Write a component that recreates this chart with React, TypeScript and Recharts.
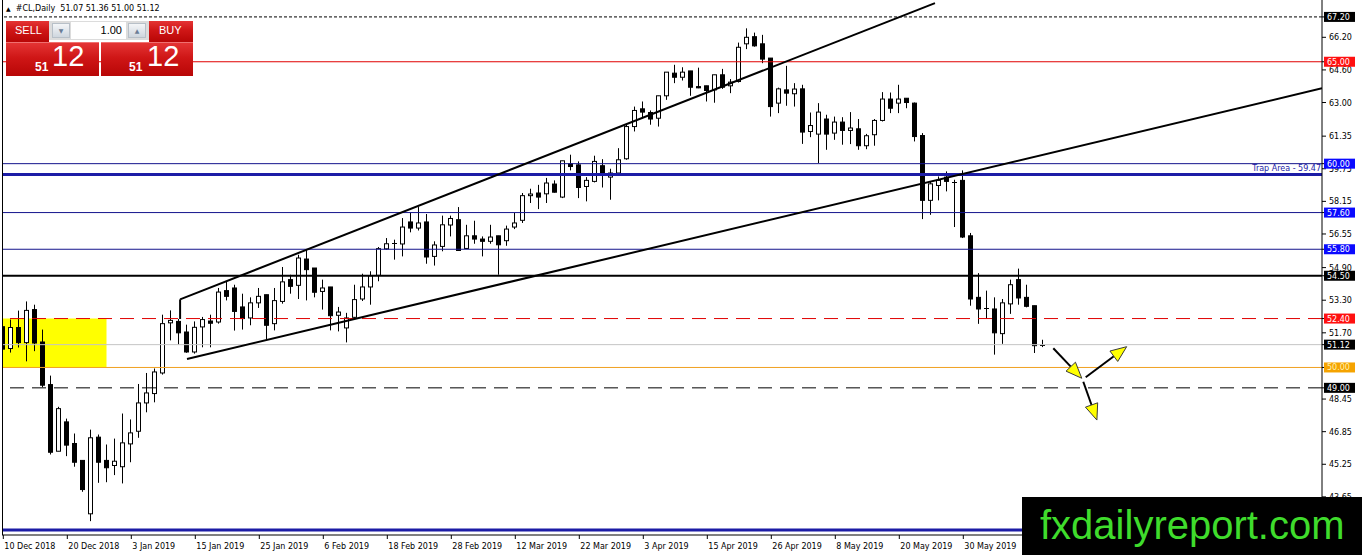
import React from "react";
import { ComposedChart, Bar, XAxis, YAxis, ReferenceLine, ReferenceArea } from "recharts";

// ---- daily OHLC of #CL, bar 0 = 10 Dec 2018 ----
const opens = [
  52.0, 50.93, 51.96, 51.22, 52.84, 51.25, 49.16, 45.89, 47.33, 46.27,
  45.44, 42.82, 46.58, 45.44, 45.19, 45.13, 46.25, 46.87, 48.26, 48.72,
  49.73, 52.19, 52.26, 51.74, 50.76, 51.99, 52.28, 52.23, 53.77, 53.9,
  52.97, 52.43, 53.17, 53.57, 52.15, 53.24, 54.31, 54.03, 55.32, 54.88,
  53.73, 53.95, 52.56, 51.94, 52.46, 53.36, 53.95, 54.52, 55.82, 56.1,
  56.06, 57.14, 56.84, 57.14, 55.45, 55.94, 56.99, 57.25, 55.84, 56.46,
  56.3, 56.19, 56.46, 56.22, 56.89, 57.22, 58.43, 58.56, 58.52, 59.0,
  58.36, 59.99, 59.94, 58.88, 59.13, 59.9, 59.34, 59.54, 60.24, 61.82,
  62.69, 62.51, 62.23, 63.33, 64.44, 64.24, 64.55, 63.78, 63.82, 63.62,
  64.36, 63.82, 64.03, 65.88, 66.23, 65.88, 65.18, 62.97, 63.62, 63.43,
  63.67, 61.58, 61.45, 62.19, 61.5, 62.04, 61.63, 61.71, 60.88, 61.42,
  62.12, 63.17, 62.97, 63.21, 62.97, 61.38, 58.2, 58.93, 59.34, 59.08,
  59.18, 56.46, 53.44, 52.92, 52.87, 51.66, 53.12, 54.31, 53.44, 53.03,
  51.07,
];
const highs = [
  52.7, 52.35, 52.79, 53.24, 53.08, 51.86, 49.6, 48.07, 47.49, 46.76,
  45.44, 46.95, 46.71, 46.22, 46.51, 47.74, 47.45, 49.19, 49.73, 49.95,
  52.59, 52.8, 52.38, 52.1, 52.26, 52.48, 52.59, 53.9, 54.22, 54.06,
  53.62, 53.44, 53.9, 53.57, 53.9, 54.93, 54.55, 55.53, 55.78, 54.88,
  54.31, 53.95, 52.97, 52.68, 54.06, 54.6, 54.72, 55.91, 56.35, 56.27,
  57.33, 57.58, 57.87, 57.53, 56.19, 57.45, 57.45, 57.87, 57.0, 57.2,
  56.43, 57.0, 56.46, 56.96, 57.58, 58.56, 58.77, 58.96, 59.3, 59.18,
  60.14, 60.44, 60.11, 59.34, 60.39, 60.22, 59.75, 60.76, 61.91, 62.8,
  63.05, 62.61, 63.33, 64.49, 64.85, 64.73, 64.55, 64.71, 63.82, 64.36,
  64.65, 64.15, 65.94, 66.64, 66.43, 66.32, 65.18, 63.73, 64.8, 63.95,
  63.87, 62.51, 62.97, 62.4, 62.31, 62.28, 62.53, 62.19, 61.46, 62.19,
  63.51, 63.49, 63.87, 63.21, 63.0, 61.5, 59.13, 59.37, 59.62, 59.21,
  59.67, 56.6, 54.63, 53.77, 53.44, 53.36, 54.31, 54.85, 54.06, 53.03,
  51.36,
];
const lows = [
  50.6, 50.73, 50.98, 50.3, 50.8, 49.03, 45.73, 45.89, 45.65, 45.13,
  43.9, 42.46, 44.34, 44.37, 44.72, 44.31, 45.35, 46.55, 47.8, 48.29,
  49.65, 51.33, 51.12, 50.72, 50.68, 50.99, 50.99, 52.15, 53.29, 51.81,
  51.86, 52.07, 52.92, 51.37, 51.82, 53.13, 53.62, 53.36, 53.29, 53.44,
  52.84, 51.82, 51.77, 51.23, 52.4, 53.26, 53.08, 54.23, 55.78, 55.29,
  55.45, 56.63, 56.72, 55.09, 55.0, 55.7, 56.43, 55.74, 55.81, 56.07,
  55.45, 56.07, 54.55, 55.97, 56.79, 57.09, 58.07, 57.77, 58.07, 58.58,
  58.31, 59.67, 58.31, 58.15, 59.08, 58.83, 58.23, 59.41, 60.19, 61.58,
  62.23, 61.91, 61.82, 63.13, 63.95, 64.08, 63.33, 63.7, 63.05, 62.99,
  63.67, 63.46, 63.98, 65.62, 65.74, 64.93, 62.31, 62.48, 62.84, 62.8,
  60.97, 61.3, 60.03, 60.68, 61.17, 60.93, 60.96, 60.68, 60.71, 60.88,
  62.07, 62.48, 62.48, 62.72, 61.09, 57.28, 57.49, 58.2, 58.64, 56.89,
  56.35, 53.03, 52.14, 52.38, 50.63, 51.16, 52.63, 53.08, 52.95, 50.71,
  51.0,
];
const closes = [
  50.9, 51.96, 51.22, 52.8, 51.2, 49.13, 45.84, 47.98, 46.19, 45.35,
  44.01, 46.55, 45.35, 45.08, 45.4, 46.3, 46.79, 48.26, 48.75, 49.78,
  52.15, 52.31, 51.7, 50.76, 51.97, 52.35, 52.17, 53.7, 53.49, 52.75,
  52.4, 53.17, 53.49, 52.07, 53.28, 54.2, 53.98, 55.37, 54.8, 53.69,
  53.9, 52.54, 52.72, 52.43, 53.33, 53.95, 54.5, 55.83, 56.07, 56.07,
  56.89, 56.84, 57.09, 55.42, 56.01, 57.0, 57.31, 55.74, 56.46, 56.3,
  56.19, 56.4, 56.02, 56.79, 57.09, 58.43, 58.51, 58.36, 59.05, 58.6,
  60.14, 59.86, 58.83, 59.18, 60.11, 59.42, 59.54, 60.19, 61.82, 62.61,
  62.53, 62.19, 63.33, 64.49, 64.24, 64.49, 63.75, 63.72, 63.59, 64.36,
  63.75, 64.0, 65.71, 66.2, 65.78, 65.13, 62.8, 63.67, 63.46, 63.66,
  61.55, 61.87, 62.53, 61.45, 62.04, 61.63, 61.75, 60.88, 61.37, 62.12,
  63.17, 62.72, 63.17, 63.0, 61.33, 58.2, 59.01, 59.18, 59.13, 59.05,
  56.4, 53.36, 52.87, 52.87, 51.7, 53.17, 54.06, 53.41, 53.0, 51.07,
  51.12,
];

const dateTickLabels = [
  "10 Dec 2018", "20 Dec 2018", "3 Jan 2019", "15 Jan 2019", "25 Jan 2019", "6 Feb 2019",
  "18 Feb 2019", "28 Feb 2019", "12 Mar 2019", "22 Mar 2019", "3 Apr 2019", "15 Apr 2019",
  "26 Apr 2019", "8 May 2019", "20 May 2019", "30 May 2019",
];
const barsPerLabel = 8;
const priceTicks = [66.2, 64.6, 63.0, 61.35, 59.75, 58.15, 56.55, 54.9, 53.3, 51.7, 48.45, 46.85, 45.25, 43.65];

// horizontal levels
const levelPrices = [67.2, 65.0, 60.0, 59.47, 57.6, 55.8, 54.5, 52.4, 51.12, 50.0, 49.0, 42.03];
const levelLineColors = ["#000000", "#e00000", "#14148c", "#1c1ca6", "#14148c", "#14148c", "#000000", "#e00000", "#c4c4c4", "#f0a020", "#000000", "#1c1ca6"];
const levelWidths = [1, 1, 1, 3, 1, 1, 2, 1, 1, 1, 1, 3];
const levelDashes = ["3 2", "", "", "", "", "", "", "14 8", "", "", "14 8", ""];
const levelBoxColors = ["#000000", "#ff1010", "#0a0aff", "", "#0a0aff", "#0a0aff", "#000000", "#ff1010", "#000000", "#f5a300", "#000000", ""];
const levelBoxText = ["#ffffff", "#ffffff", "#ffffff", "", "#ffffff", "#ffffff", "#ffffff", "#ffffff", "#ffffff", "#fff2b0", "#ffffff", ""];
const trapLabel = "Trap Area - 59.47";

// zone (bar index range, price range)
const zoneBars = [-0.16, 12.9];
const zonePrices = [50.0, 52.4];

// trend lines [x1, y1, x2, y2] in (bar index, price)
const trendLines = [
  [22.1, 53.34, 116.46, 67.88],
  [22.1, 53.34, 22.1, 52.38],
  [22.96, 50.42, 164.84, 63.7],
];
// arrows [x1, y1, x2(tip), y2(tip)]
const arrows = [
  [131.25, 50.94, 134.81, 49.47],
  [135.3, 49.52, 140.42, 51.02],
  [135.0, 49.3, 136.7, 47.42],
];

const xDomain = [-0.1625, 164.8375];
const yDomain = [41.78, 68.03];
const FONT = "DejaVu Sans";

const Candle = (props: any) => {
  const { x, y, width, height, payload } = props;
  if (!payload) return null;
  const { o, h, l, c } = payload;
  const top = Math.min(y, y + height);
  const bot = Math.max(y, y + height);
  const span = h - l;
  const yOf = (v: number) => (span > 0 ? top + ((h - v) / span) * (bot - top) : top);
  const cx = Math.floor(x + width / 2) + 0.5;
  const yo = yOf(o);
  const yc = yOf(c);
  const bTop = Math.min(yo, yc);
  const bBot = Math.max(yo, yc);
  const bull = c >= o;
  return (
    <g>
      <line x1={cx} x2={cx} y1={top} y2={bot} stroke="#000" strokeWidth={1} />
      {bBot - bTop < 1.2 ? (
        <line x1={cx - 2.5} x2={cx + 2.5} y1={Math.round(bTop) + 0.5} y2={Math.round(bTop) + 0.5} stroke="#000" strokeWidth={1} />
      ) : (
        <rect x={cx - 2} y={bTop} width={4} height={bBot - bTop} fill={bull ? "#ffffff" : "#000000"} stroke="#000" strokeWidth={1} />
      )}
    </g>
  );
};

const XTick = (props: any) => {
  const { x, y, payload } = props;
  const label = dateTickLabels[Math.round(payload.value / barsPerLabel)];
  return (
    <text x={x + 1} y={y} dy={8} textAnchor="start" fontSize={8} fontFamily={FONT} fill="#000">
      {label}
    </text>
  );
};

const YTick = (props: any) => {
  const { x, y, payload } = props;
  const v = payload.value;
  const k = levelPrices.findIndex((p, i) => Math.abs(p - v) < 1e-6 && levelBoxColors[i] !== "");
  if (k >= 0) {
    return (
      <g>
        <rect x={x - 5} y={y - 5} width={31} height={10} fill={levelBoxColors[k]} />
        <text x={x - 2} y={y + 3} fontSize={8} fontFamily={FONT} fill={levelBoxText[k]}>
          {v.toFixed(2)}
        </text>
      </g>
    );
  }
  return (
    <text x={x} y={y + 3} fontSize={8} fontFamily={FONT} fill="#000">
      {v.toFixed(2)}
    </text>
  );
};

const ArrowShape = (props: any) => {
  const { x1, y1, x2, y2 } = props;
  const ang = Math.atan2(y2 - y1, x2 - x1);
  const L = 16;
  const W = 6.5;
  const bx = x2 - L * Math.cos(ang);
  const by = y2 - L * Math.sin(ang);
  const px = -Math.sin(ang) * W;
  const py = Math.cos(ang) * W;
  return (
    <g>
      <line x1={x1} y1={y1} x2={bx} y2={by} stroke="#000" strokeWidth={2} />
      <polygon points={`${x2},${y2} ${bx + px},${by + py} ${bx - px},${by - py}`} fill="#ffff00" stroke="#3a3a3a" strokeWidth={1} />
    </g>
  );
};

const TrapLabel = (props: any) => {
  const vb = props.viewBox || {};
  return (
    <text x={vb.x + vb.width - 1} y={vb.y - 3.5} textAnchor="end" fontSize={8} fontFamily={FONT} fill="#1c1ca6">
      {trapLabel}
    </text>
  );
};

const redGrad = "linear-gradient(to bottom, #e43434 0%, #cf1616 45%, #b80606 100%)";

export default function App() {
  const data = opens.map((o, i) => ({ i, o, h: highs[i], l: lows[i], c: closes[i], range: [lows[i], highs[i]] }));
  const xTicks = dateTickLabels.map((_, k) => k * barsPerLabel);
  const yTicks = [...priceTicks, ...levelPrices.filter((_, i) => levelBoxColors[i] !== "")];

  return (
    <div style={{ position: "relative", width: 1362, height: 555, background: "#fff", overflow: "hidden", fontFamily: FONT }}>
      <style>{"body{margin:0}"}</style>
      <ComposedChart width={1362} height={555} data={data} margin={{ top: 0, right: 0, bottom: 0, left: 2 }}>
        <XAxis
          dataKey="i"
          type="number"
          domain={xDomain}
          allowDataOverflow
          ticks={xTicks}
          interval={0}
          tick={(p: any) => <XTick {...p} />}
          tickSize={4}
          tickMargin={2}
          height={20}
          axisLine={{ stroke: "#000" }}
          tickLine={{ stroke: "#000" }}
        />
        <YAxis
          orientation="right"
          type="number"
          domain={yDomain}
          allowDataOverflow
          ticks={yTicks}
          interval={0}
          tick={(p: any) => <YTick {...p} />}
          tickSize={4}
          tickMargin={3}
          width={40}
          axisLine={{ stroke: "#000" }}
          tickLine={{ stroke: "#000" }}
        />
        <ReferenceArea
          x1={zoneBars[0]}
          x2={zoneBars[1]}
          y1={zonePrices[0]}
          y2={zonePrices[1]}
          fill="#ffff00"
          fillOpacity={1}
          stroke="none"
          ifOverflow="hidden"
        />
        {levelPrices.map((p, i) => (
          <ReferenceLine
            key={"lv" + i}
            y={p}
            stroke={levelLineColors[i]}
            strokeWidth={levelWidths[i]}
            strokeDasharray={levelDashes[i] || undefined}
            ifOverflow="hidden"
            label={p === 59.47 ? TrapLabel : undefined}
          />
        ))}
        <Bar dataKey="range" barSize={5} isAnimationActive={false} shape={(p: any) => <Candle {...p} />} />
        {trendLines.map((t, i) => (
          <ReferenceLine
            key={"tl" + i}
            segment={[{ x: t[0], y: t[1] }, { x: t[2], y: t[3] }]}
            stroke="#000"
            strokeWidth={2}
            ifOverflow="hidden"
          />
        ))}
        {arrows.map((a, i) => (
          <ReferenceLine
            key={"ar" + i}
            segment={[{ x: a[0], y: a[1] }, { x: a[2], y: a[3] }]}
            ifOverflow="hidden"
            shape={(p: any) => <ArrowShape {...p} />}
          />
        ))}
      </ComposedChart>

      {/* left border */}
      <div style={{ position: "absolute", left: 2, top: 0, width: 1, height: 535, background: "#000" }} />

      {/* header */}
      <div style={{ position: "absolute", left: 6, top: 4, fontSize: 8, fontFamily: FONT, color: "#000", whiteSpace: "pre", lineHeight: "10px" }}>
        <span style={{ fontSize: 6 }}>▲</span>{"  #CL,Daily  51.07 51.36 51.00 51.12"}
      </div>

      {/* trade panel */}
      <div style={{ position: "absolute", left: 6, top: 21, width: 43, height: 21, background: redGrad, color: "#fff", fontSize: 11, fontFamily: "Liberation Sans", lineHeight: "19px", paddingLeft: 9, boxSizing: "border-box" }}>
        SELL
      </div>
      <div style={{ position: "absolute", left: 49, top: 21, width: 100, height: 19, background: "#dcdcdc" }}>
        <div style={{ position: "absolute", left: 3, top: 2, width: 18, height: 15, background: "linear-gradient(#f4f6f8,#cfd6de)", border: "1px solid #b8c0c8", boxSizing: "border-box", fontSize: 6, color: "#6b7d96", textAlign: "center", lineHeight: "13px" }}>▼</div>
        <div style={{ position: "absolute", left: 22, top: 1, width: 55, height: 17, background: "#fff", fontSize: 11, fontFamily: "Liberation Sans", color: "#000", textAlign: "right", lineHeight: "17px", paddingRight: 4, boxSizing: "border-box" }}>1.00</div>
        <div style={{ position: "absolute", left: 79, top: 2, width: 18, height: 15, background: "linear-gradient(#f4f6f8,#cfd6de)", border: "1px solid #b8c0c8", boxSizing: "border-box", fontSize: 6, color: "#6b7d96", textAlign: "center", lineHeight: "13px" }}>▲</div>
      </div>
      <div style={{ position: "absolute", left: 149, top: 21, width: 44, height: 21, background: redGrad, color: "#fff", fontSize: 11, fontFamily: "Liberation Sans", lineHeight: "19px", paddingLeft: 10, boxSizing: "border-box" }}>
        BUY
      </div>
      <div style={{ position: "absolute", left: 6, top: 42, width: 93, height: 34, background: redGrad, borderTop: "1px solid #f07070", boxSizing: "border-box" }}>
        <span style={{ position: "absolute", left: 29, top: 17, fontSize: 12, fontWeight: "bold", color: "#fff", fontFamily: "Liberation Sans" }}>51</span>
        <span style={{ position: "absolute", left: 46, top: -3, fontSize: 29, color: "#fff", fontFamily: "Liberation Sans" }}>12</span>
      </div>
      <div style={{ position: "absolute", left: 101, top: 42, width: 92, height: 34, background: redGrad, borderTop: "1px solid #f07070", boxSizing: "border-box" }}>
        <span style={{ position: "absolute", left: 28, top: 17, fontSize: 12, fontWeight: "bold", color: "#fff", fontFamily: "Liberation Sans" }}>51</span>
        <span style={{ position: "absolute", left: 46, top: -3, fontSize: 29, color: "#fff", fontFamily: "Liberation Sans" }}>12</span>
      </div>

      {/* watermark */}
      <div style={{ position: "absolute", left: 1022, top: 497, width: 340, height: 58, background: "#000", color: "#3fdc2c", fontFamily: "Liberation Sans", fontSize: 40, lineHeight: "56px", paddingLeft: 18, boxSizing: "border-box", whiteSpace: "nowrap" }}>
        fxdailyreport.com
      </div>
    </div>
  );
}
